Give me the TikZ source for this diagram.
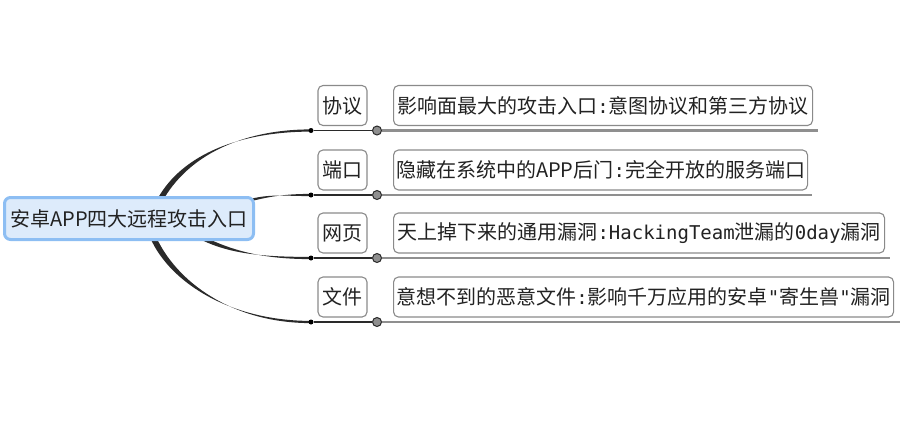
\documentclass[tikz,border=0pt]{standalone}
\usepackage{fontspec}
\setmainfont{Noto Sans CJK SC}
\newfontfamily\monofont{DejaVu Sans Mono}
\usepackage{xcolor}
\usetikzlibrary{positioning,calc,backgrounds}
\definecolor{rootfill}{HTML}{DDEBFB}
\definecolor{rootdraw}{HTML}{8DBEF3}
\definecolor{ink}{HTML}{222222}
\definecolor{boxdraw}{HTML}{8A8A8A}
\definecolor{branch}{HTML}{2A2A2A}
\definecolor{rail}{HTML}{8F8F8F}
\newcommand{\mc}[1]{{\monofont\fontsize{19}{22}\selectfont #1}}

\begin{document}
\begin{tikzpicture}[x=1pt, y=-1pt,
  font=\fontsize{20}{24}\selectfont, text=ink,
  root/.style={draw=rootdraw, fill=rootfill, line width=3pt, rounded corners=6pt, minimum width=249pt, minimum height=42pt, inner sep=0pt},
  topic/.style={draw=boxdraw, line width=1.1pt, rounded corners=5pt, minimum width=49pt, minimum height=40pt, inner sep=0pt},
  detail/.style={topic, anchor=west},
  joint/.style={circle, draw=branch, fill=rail, line width=1pt, minimum size=9pt, inner sep=0pt},
  knot/.style={circle, fill=black, minimum size=5pt, inner sep=0pt},
  stem/.style={draw=branch, line width=1.8pt},
  track/.style={draw=rail, line width=2.6pt}]
\useasboundingbox (0,0) rectangle (904,421);
% ---------------- central topic
\node[root] (root) at (129,218.5) {安卓APP四大远程攻击入口};
% ---------------- sub topics
\node[topic] (tp1) at (342.5,105.5) {协议};
\node[topic] (tp2) at (342.5,170) {端口};
\node[topic] (tp3) at (342.5,233) {网页};
\node[topic] (tp4) at (342.5,297) {文件};
\node[detail, minimum width=419pt] (dt1) at (393,105.5) {影响面最大的攻击入口\mc{:}意图协议和第三方协议};
\node[detail, minimum width=414pt] (dt2) at (393,170) {隐藏在系统中的APP后门\mc{:}完全开放的服务端口};
\node[detail, minimum width=491pt] (dt3) at (393,233) {天上掉下来的通用漏洞\mc{:HackingTeam}泄漏的\mc{0day}漏洞};
\node[detail, minimum width=500pt] (dt4) at (393,297) {意想不到的恶意文件\mc{:}影响千万应用的安卓\mc{"}寄生兽\mc{"}漏洞};
% ---------------- knots, joints, rail ends
\foreach \i/\y/\e in {1/130.5/818, 2/195/812, 3/258/890, 4/322/900} {
  \node[knot] (k\i) at (311,\y) {};
  \node[joint] (j\i) at (377,\y) {};
  \coordinate (r\i) at (\e,\y);
}
\begin{scope}[on background layer]
\foreach \i in {1,2,3,4} {
  \draw[stem] (k\i) -- (j\i);
  \draw[track] (j\i) -- (r\i);
}
% tapered branches out of the central topic
\coordinate (s1) at ($(root.north)+(31,4)$);
\coordinate (s2) at ($(root.north east)+(-4,4)$);
\coordinate (s3) at ($(root.south)+(71,-4)$);
\coordinate (s4) at ($(root.south)+(24,-4)$);
\foreach \i/\a/\b/\o in {1/{25,-45}/{-70,0}/{2.4,1.3}, 2/{20,-5}/{-25,0}/{0,1.2}, 3/{30,15}/{-50,0}/{-0.9,1.8}, 4/{20,45}/{-80,0}/{-2.6,1.2}}
  \fill[branch] ($(s\i)+(\o)$) .. controls +(\a) and +(\b) .. ($(k\i)+(0,-1.1)$)
    -- ($(k\i)+(0,1.1)$) .. controls +(\b) and +(\a) .. ($(s\i)-(\o)$) -- cycle;
\end{scope}
\end{tikzpicture}
\end{document}
